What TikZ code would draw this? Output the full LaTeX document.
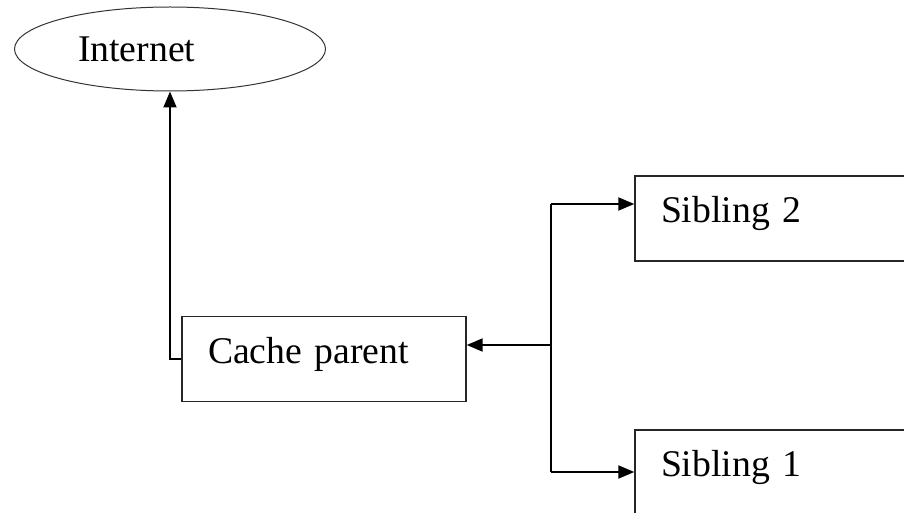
\documentclass[tikz,border=0pt]{standalone}
\usepackage{fontspec}
\setmainfont{Liberation Serif}
\usepackage{tikz}
\usetikzlibrary{arrows.meta,shapes,positioning}
\tikzstyle{arrow} = [line width=1.9pt,->,>={Triangle[length=16pt,width=13pt]},color=black]
\tikzstyle{link} = [line width=1.9pt,color=black]
\tikzstyle{cachebox} = [rectangle, draw=black!85, line width=1.4pt, minimum width=284pt, minimum height=85pt, inner xsep=26pt, text width=232pt, align=left, text height=25.7pt, text depth=17.5pt, font=\fontsize{37.7}{45}\selectfont]
\tikzstyle{netnode} = [ellipse, draw=black!80, line width=1pt, minimum width=311pt, minimum height=84pt, inner sep=0pt, text width=184pt, align=left, font=\fontsize{37.7}{45}\selectfont]

\begin{document}
\begin{tikzpicture}[x=1pt, y=-1pt]
    \clip (0,0) rectangle (904,513);

    % Internet and the parent cache
    \node[netnode] (internet) at (170,49) {Internet};
    \node[cachebox] (cache) at (324,359) {Cache parent};

    % Siblings
    \node[cachebox] (sib2) at (777,218.5) {Sibling 2};
    \node[cachebox] (sib1) at (777,472.5) {Sibling 1};

    % Connectors
    \draw[arrow] (cache.west) -| (internet.south);
    \coordinate (hub) at (551,345);
    \coordinate (top) at (551,204);
    \coordinate (bot) at (551,472);
    \draw[link] (top) -- (bot);
    \draw[arrow] (hub) -- (hub -| cache.east);
    \draw[arrow] (top) -- (top -| sib2.west);
    \draw[arrow] (bot) -- (bot -| sib1.west);
\end{tikzpicture}
\end{document}
